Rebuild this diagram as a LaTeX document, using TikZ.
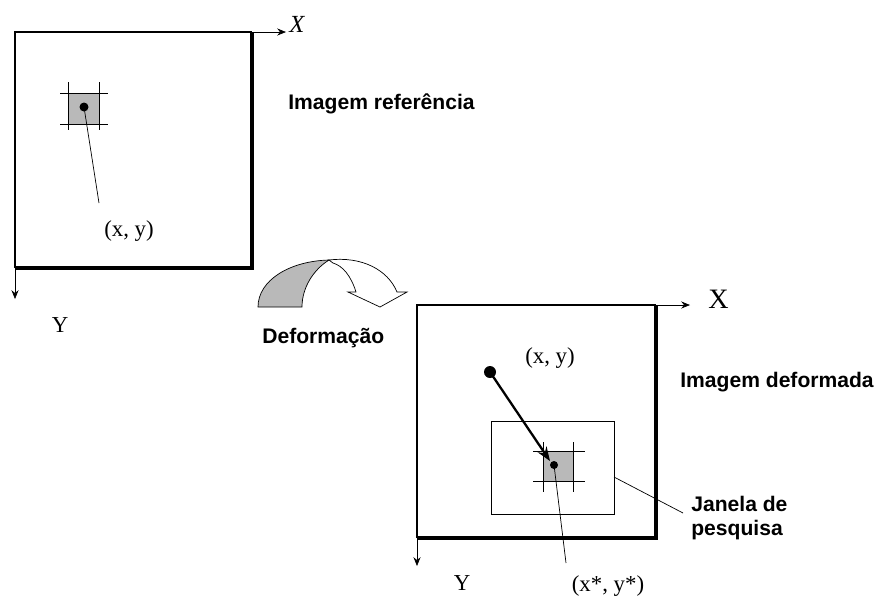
\documentclass[tikz,border=0pt]{standalone}
\usepackage{fontspec}
\setmainfont{Liberation Serif}
\setsansfont{Liberation Sans}
\usetikzlibrary{arrows.meta, positioning}

\begin{document}
\begin{tikzpicture}[x=0.02cm, y=-0.02cm,
    frame thin/.style={line width=1.5pt},
    frame thick/.style={line width=2.6pt},
    axis/.style={thin, -{Stealth[length=5pt, width=4pt]}},
    caption/.style={font=\sffamily\bfseries\fontsize{12}{14}\selectfont, inner sep=0pt},
    coord/.style={font=\fontsize{13}{15}\selectfont, inner sep=0pt},
    pixbox/.style={draw, fill=gray!55, thin},
    cross/.style={thin}]

    \useasboundingbox (0,0) rectangle (881,600);

    % ============================================================
    % 1. IMAGEM REFERENCIA
    % ============================================================
    \coordinate (RtL) at (15,32);
    \coordinate (RtR) at (252,32);
    \coordinate (RbR) at (252,268);
    \coordinate (RbL) at (15,268);

    \draw[frame thin] (RbL) -- (RtL) -- (RtR);
    \draw[frame thick] (RtR) -- (RbR) -- (RbL);

    % eixos
    \coordinate (RxEnd) at (286,32);
    \coordinate (RyEnd) at (15,299);
    \draw[axis] (RtR) -- (RxEnd);
    \draw[axis] (RbL) -- (RyEnd);
    \node[coord, font=\itshape\fontsize{14}{16}\selectfont, anchor=west] (RX) at (289,24) {X};
    \node[coord] (RY) at (60,325) {Y};

    % pixel com retículo
    \draw[pixbox] (68,93) rectangle (99,124);
    \draw[cross] (60,93) -- (108,93);
    \draw[cross] (60,124) -- (108,124);
    \draw[cross] (68,82) -- (68,130);
    \draw[cross] (99,82) -- (99,130);
    \coordinate (Rpt) at (84,107);
    \fill (Rpt) circle (4.5);
    \coordinate (RlineEnd) at (99,203);
    \draw[thin] (Rpt) -- (RlineEnd);
    \node[coord] (Rxy) at (129,231) {(x, y)};

    \node[caption, anchor=west] (capRef) at (288,104) {Imagem referência};

    % ============================================================
    % 2. SETA CURVA (DEFORMACAO)
    % ============================================================
    \filldraw[fill=gray!55, thin]
        (258,307) .. controls (258,280) and (290,261) .. (329,260)
        .. controls (313,270) and (302,288) .. (302,307) -- cycle;
    \draw[thin, fill=white]
        (329,260) .. controls (362,256) and (388,270) .. (397,292)
        -- (407,292) -- (380,307) -- (348,292) -- (356,292)
        .. controls (351,276) and (343,266) .. (333,263) -- cycle;
    \node[caption, anchor=west] (capDef) at (262,338) {Deformação};

    % ============================================================
    % 3. IMAGEM DEFORMADA
    % ============================================================
    \coordinate (DtL) at (417,305);
    \coordinate (DtR) at (656,305);
    \coordinate (DbR) at (656,538);
    \coordinate (DbL) at (417,538);

    \draw[frame thin] (DbL) -- (DtL) -- (DtR);
    \draw[frame thick] (DtR) -- (DbR) -- (DbL);

    % eixos
    \coordinate (DxEnd) at (690,305);
    \coordinate (DyEnd) at (417,566);
    \draw[axis] (DtR) -- (DxEnd);
    \draw[axis] (DbL) -- (DyEnd);
    \node[coord, font=\fontsize{16}{18}\selectfont, anchor=west] (DX) at (708,299) {X};
    \node[coord] (DY) at (462,583) {Y};

    % janela de pesquisa
    \draw[thin] (491,421) rectangle (614,514);

    % pixel com retículo
    \draw[pixbox] (543,451) rectangle (573,481);
    \draw[cross] (533,451) -- (585,451);
    \draw[cross] (533,481) -- (585,481);
    \draw[cross] (543,442) -- (543,492);
    \draw[cross] (573,442) -- (573,492);

    \coordinate (Dstart) at (490,372);
    \coordinate (Dpt) at (554,465);
    \fill (Dstart) circle (6);
    \fill (Dpt) circle (4);
    \draw[line width=1.3pt, -{Stealth[length=8pt, width=6pt]}] (Dstart) -- (550,461);

    \coordinate (DlineEnd) at (566,563);
    \draw[thin] (Dpt) -- (DlineEnd);
    \node[coord] (Dxy) at (550,358) {(x, y)};
    \node[coord] (Dxys) at (608,586) {(x*, y*)};

    \node[caption, anchor=west] (capDefImg) at (680,382) {Imagem deformada};

    % legenda da janela
    \coordinate (Jstart) at (614,477);
    \coordinate (Jend) at (683,513);
    \draw[thin] (Jstart) -- (Jend);
    \node[caption, anchor=west, align=left] (capJan) at (691,518) {Janela de\\pesquisa};

\end{tikzpicture}
\end{document}
